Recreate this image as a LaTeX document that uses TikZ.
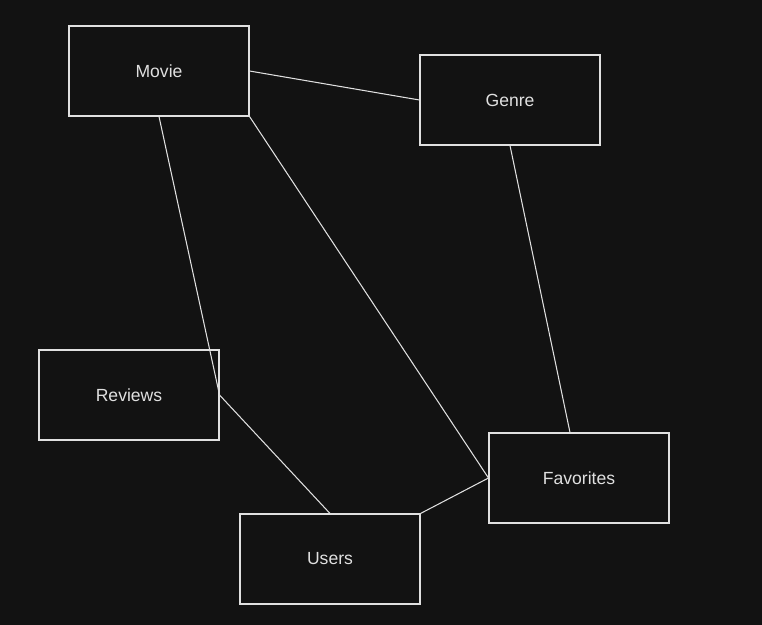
\documentclass[tikz,border=0pt]{standalone}
\usepackage{fontspec}
\setmainfont{Liberation Sans}
\usetikzlibrary{calc,positioning}
\definecolor{bg}{HTML}{121212}
\definecolor{edge}{HTML}{E0E0E0}
\tikzset{entity/.style={draw=edge, fill=bg, line width=0.6pt, minimum width=3.6cm, minimum height=1.8cm, inner sep=0pt, text=edge, font=\fontsize{10}{12}\selectfont}}
\tikzset{link/.style={draw=edge, line width=0.6pt}}

\begin{document}
\begin{tikzpicture}
      \fill[bg] (0,0) rectangle (15.24,-12.5);
      \useasboundingbox (0,0) rectangle (15.24,-12.5);
      \coordinate (m) at (3.18,-1.42);
      \coordinate (g) at (10.2,-2.0);
      \coordinate (r) at (2.58,-7.9);
      \coordinate (u) at (6.6,-11.18);
      \coordinate (f) at (11.58,-9.56);
      \node[entity] (movie) at (m) {Movie};
      \node[entity] (genre) at (g) {Genre};
      \node[entity] (reviews) at (r) {Reviews};
      \node[entity] (users) at (u) {Users};
      \node[entity] (favorites) at (f) {Favorites};
      \coordinate (f1) at ($(favorites.north)+(-0.18,0)$);
      \draw[link] (movie.east) -- (genre.west);
      \draw[link] (movie.south) -- (reviews.east);
      \draw[link] (reviews.east) -- (users.north);
      \draw[link] (movie.south east) -- (favorites.west);
      \draw[link] (genre.south) -- (f1);
      \draw[link] (users.north east) -- (favorites.west);
    \end{tikzpicture}
\end{document}
